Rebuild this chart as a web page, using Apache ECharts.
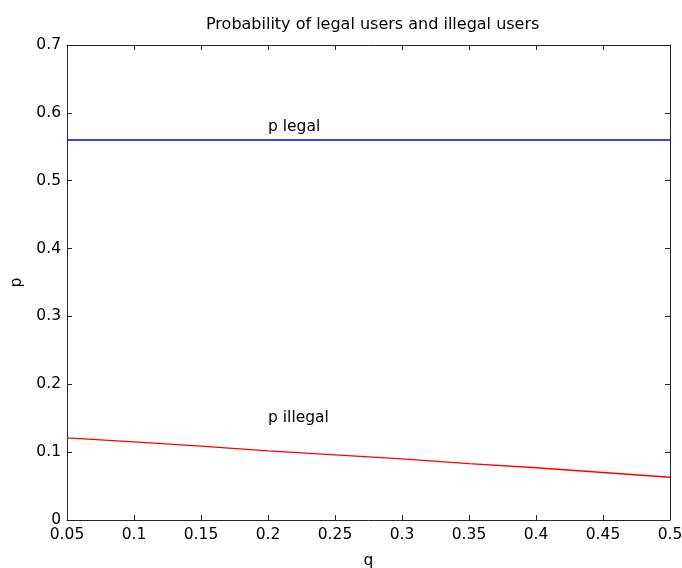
<!DOCTYPE html>
<html><head><meta charset="utf-8">
<script src="https://cdn.jsdelivr.net/npm/echarts@6/dist/echarts.min.js"></script>
<style>html,body{margin:0;padding:0;background:#fff}#c{width:682px;height:568px}</style>
</head><body><div id="c"></div>
<script>
const qValues = [0.05, 0.1, 0.15, 0.2, 0.25, 0.3, 0.35, 0.4, 0.45, 0.5];
const pLegal = [0.56, 0.56, 0.56, 0.56, 0.56, 0.56, 0.56, 0.56, 0.56, 0.56];
const pIllegal = [0.121, 0.115, 0.109, 0.102, 0.096, 0.090, 0.083, 0.077, 0.070, 0.063];
const legalLabel = [[0.2, 0.579, 'p legal']];
const illegalLabel = [[0.2, 0.15, 'p illegal']];

const font = 'DejaVu Sans, sans-serif';
const fs = 15.5;
const chart = echarts.init(document.getElementById('c'));
const axisCommon = {
  axisLine: {show: true, onZero: false, lineStyle: {color: '#262626', width: 1}},
  axisTick: {show: true, inside: true, length: 5, lineStyle: {color: '#262626'}},
  splitLine: {show: false}
};
chart.setOption({
  animation: false,
  title: {text: 'Probability of legal users and illegal users', left: 201, top: 12,
    textStyle: {fontFamily: font, fontSize: 16, fontWeight: 'normal', color: '#000'}},
  grid: {left: 67, right: 12, top: 45, bottom: 48, containLabel: false, outerBoundsMode: 'none'},
  xAxis: [
    Object.assign({type: 'value', min: 0.05, max: 0.5, interval: 0.05, position: 'bottom',
      name: 'q', nameLocation: 'middle', nameGap: 33,
      nameTextStyle: {fontFamily: font, fontSize: fs, color: '#000'},
      axisLabel: {fontFamily: font, fontSize: fs, color: '#000', margin: 7,
        formatter: v => String(+v.toFixed(2))}}, axisCommon),
    Object.assign({type: 'value', min: 0.05, max: 0.5, interval: 0.05, position: 'top',
      axisLabel: {show: false}}, axisCommon)
  ],
  yAxis: [
    Object.assign({type: 'value', min: 0, max: 0.7, interval: 0.1, position: 'left',
      name: 'p', nameLocation: 'middle', nameGap: 41, nameRotate: 90,
      nameTextStyle: {fontFamily: font, fontSize: fs, color: '#000'},
      axisLabel: {fontFamily: font, fontSize: fs, color: '#000', margin: 6,
        formatter: v => String(+v.toFixed(1))}}, axisCommon),
    Object.assign({type: 'value', min: 0, max: 0.7, interval: 0.1, position: 'right',
      axisLabel: {show: false}}, axisCommon)
  ],
  series: [
    {type: 'line', data: qValues.map((q, i) => [q, pLegal[i]]), showSymbol: false,
      lineStyle: {color: '#0000ff', width: 1.3}, itemStyle: {color: '#0000ff'}},
    {type: 'line', data: qValues.map((q, i) => [q, pIllegal[i]]), showSymbol: false,
      lineStyle: {color: '#ff0000', width: 1.3}, itemStyle: {color: '#ff0000'}},
    {type: 'scatter', data: legalLabel, symbolSize: 0, itemStyle: {opacity: 1},
      label: {show: true, position: 'right', distance: 0, formatter: p => p.data[2],
        fontFamily: font, fontSize: fs, color: '#000'}},
    {type: 'scatter', data: illegalLabel, symbolSize: 0, itemStyle: {opacity: 1},
      label: {show: true, position: 'right', distance: 0, formatter: p => p.data[2],
        fontFamily: font, fontSize: fs, color: '#000'}}
  ]
});
</script></body></html>
